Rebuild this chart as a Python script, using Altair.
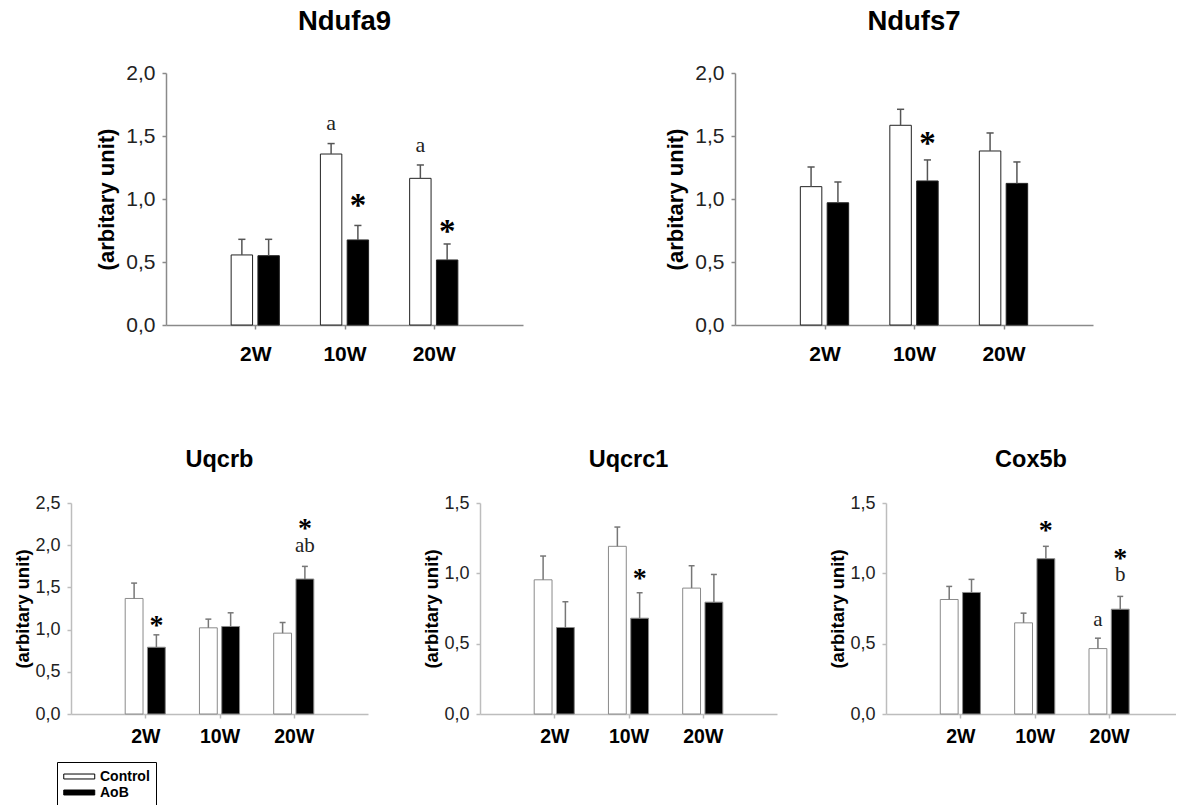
import altair as alt
import pandas as pd

times = ["2W", "10W", "20W"]
groups = ["Control", "AoB"]

# panel values (mean and SEM)
ndufa9_control = [0.556, 1.357, 1.164]
ndufa9_control_sem = [0.124, 0.083, 0.106]
ndufa9_aob = [0.550, 0.675, 0.516]
ndufa9_aob_sem = [0.130, 0.115, 0.127]

ndufs7_control = [1.098, 1.585, 1.381]
ndufs7_control_sem = [0.156, 0.127, 0.143]
ndufs7_aob = [0.970, 1.143, 1.124]
ndufs7_aob_sem = [0.165, 0.167, 0.170]

uqcrb_control = [1.369, 1.021, 0.958]
uqcrb_control_sem = [0.182, 0.103, 0.126]
uqcrb_aob = [0.791, 1.037, 1.599]
uqcrb_aob_sem = [0.147, 0.162, 0.150]

uqcrc1_control = [0.954, 1.192, 0.895]
uqcrc1_control_sem = [0.169, 0.137, 0.159]
uqcrc1_aob = [0.615, 0.681, 0.795]
uqcrc1_aob_sem = [0.183, 0.181, 0.197]

cox5b_control = [0.814, 0.648, 0.465]
cox5b_control_sem = [0.093, 0.069, 0.074]
cox5b_aob = [0.864, 1.104, 0.745]
cox5b_aob_sem = [0.093, 0.088, 0.091]

# significance labels: panel, time, group, text, level (data units)
annot_panel = ["Ndufa9", "Ndufa9", "Ndufa9", "Ndufa9", "Ndufs7",
               "Uqcrb", "Uqcrb", "Uqcrb", "Uqcrc1",
               "Cox5b", "Cox5b", "Cox5b", "Cox5b"]
annot_time = ["10W", "20W", "10W", "20W", "10W",
              "2W", "20W", "20W", "10W",
              "10W", "20W", "20W", "20W"]
annot_group = ["Control", "Control", "AoB", "AoB", "AoB",
               "AoB", "AoB", "AoB", "AoB",
               "AoB", "Control", "AoB", "AoB"]
annot_text = ["a", "a", "*", "*", "*",
              "*", "ab", "*", "*",
              "*", "a", "b", "*"]
annot_level = [1.587, 1.413, 1.0, 0.794, 1.49,
               1.124, 1.967, 2.27, 1.009,
               1.348, 0.655, 0.976, 1.15]

SANS = "Liberation Sans"
SERIF = "Liberation Serif"


def make_df(name, ctrl, ctrl_sem, aob, aob_sem):
    rows = []
    for i, t in enumerate(times):
        for g, vals, sems, off in (("Control", ctrl, ctrl_sem, -0.15),
                                   ("AoB", aob, aob_sem, 0.15)):
            xc = i + 1 + off
            rows.append(dict(time=t, group=g, value=vals[i], sem=sems[i],
                             top=vals[i] + sems[i], xc=xc,
                             x1=xc - 0.12, x2=xc + 0.12,
                             c1=xc - 0.04, c2=xc + 0.04))
    return pd.DataFrame(rows)


def make_annot(name, df):
    rows = []
    for p, t, g, s, lv in zip(annot_panel, annot_time, annot_group,
                              annot_text, annot_level):
        if p != name:
            continue
        xc = df[(df.time == t) & (df.group == g)].xc.iloc[0]
        rows.append(dict(xc=xc, level=lv, label=s))
    return pd.DataFrame(rows, columns=["xc", "level", "label"])


def panel(name, ctrl, ctrl_sem, aob, aob_sem, ymax, yticks, width, height,
          xmax, big, legend=False):
    df = make_df(name, ctrl, ctrl_sem, aob, aob_sem)
    an = make_annot(name, df)
    axis_col = "#8a8a8a" if big else "#bdbdbd"
    outline = "#222222" if big else "#8a8a8a"
    errc = "#555555" if big else "#777777"
    lab_expr = "[''," + ",".join("'%s'" % t for t in times) + "][datum.value]"
    xscale = alt.Scale(domain=[0, xmax], nice=False, zero=True)
    yscale = alt.Scale(domain=[0, ymax], nice=False)
    xaxis = alt.Axis(values=[1, 2, 3], labelExpr=lab_expr, title=None, grid=False,
                     domainColor=axis_col, domainWidth=1.5, tickColor=axis_col,
                     tickWidth=1.5, tickSize=4, labelFont=SANS,
                     labelFontSize=21 if big else 19.5, labelFontWeight="bold",
                     labelColor="black", labelBaseline="middle",
                     labelPadding=25 if big else 18)
    yaxis = alt.Axis(values=yticks,
                     labelExpr="replace(format(datum.value, '.1f'), '.', ',')",
                     title="(arbitary unit)", grid=False,
                     domainColor=axis_col, domainWidth=1.5, tickColor=axis_col,
                     tickWidth=1.5, tickSize=4, labelFont=SANS,
                     labelFontSize=21 if big else 18, labelColor="#222222",
                     labelPadding=7, titleFont=SANS,
                     titleFontSize=22 if big else 18.5, titleFontWeight="bold",
                     titleColor="black", titleAngle=270, titleAlign="center",
                     titleBaseline="middle", titleX=-60 if big else -49,
                     titleY=height / 2)
    fill_leg = None
    if legend:
        fill_leg = alt.Legend(title=None, orient="none", legendX=-14, legendY=259,
                              strokeColor="black", fillColor="white", padding=6,
                              symbolType="M-1,-0.32L3,-0.32L3,0.32L-1,0.32Z",
                              symbolSize=240, symbolStrokeColor="black",
                              symbolStrokeWidth=1, labelFont=SANS,
                              labelFontSize=14, labelFontWeight="bold",
                              labelColor="black", labelOffset=20, rowPadding=0,
                              cornerRadius=0)
    base = alt.Chart(df)
    bars = base.mark_rect(stroke=outline, strokeWidth=1).encode(
        x=alt.X("x1:Q", scale=xscale, axis=xaxis),
        x2="x2:Q",
        y=alt.Y("value:Q", scale=yscale, axis=yaxis),
        y2=alt.datum(0),
        fill=alt.Fill("group:N", scale=alt.Scale(domain=groups, range=["white", "black"]),
                      legend=fill_leg),
    )
    err = base.mark_rule(color=errc, strokeWidth=1.5).encode(
        x="xc:Q", y="value:Q", y2="top:Q")
    caps = base.mark_rule(color=errc, strokeWidth=1.5).encode(
        x="c1:Q", x2="c2:Q", y="top:Q")
    layers = [bars, err, caps]
    if len(an):
        ab = alt.Chart(an)
        stars = ab.transform_filter("datum.label == '*'").mark_text(
            font=SERIF, fontWeight="bold", fontSize=33 if big else 28,
            baseline="middle", dy=7, color="black").encode(
            x="xc:Q", y="level:Q", text="label:N")
        letters = ab.transform_filter("datum.label != '*'").mark_text(
            font=SERIF, fontSize=22 if big else 21, baseline="middle", dy=-2,
            color="#222222").encode(x="xc:Q", y="level:Q", text="label:N")
        layers += [stars, letters]
    title = alt.TitleParams(text=name, font=SANS, fontSize=27.5 if big else 23.5,
                            fontWeight="bold", color="black", anchor="middle",
                            frame="group", baseline="alphabetic",
                            offset=5 if big else 4)
    return alt.layer(*layers).properties(width=width, height=height, title=title)


def blank(w):
    return alt.Chart(pd.DataFrame({"v": [0]})).mark_point(opacity=0).encode(
        x=alt.X("v:Q", axis=None), y=alt.Y("v:Q", axis=None)
    ).properties(width=w, height=1)


p1 = panel("Ndufa9", ndufa9_control, ndufa9_control_sem, ndufa9_aob, ndufa9_aob_sem,
           2.0, [0, 0.5, 1.0, 1.5, 2.0], 357, 252, 4, True)
p2 = panel("Ndufs7", ndufs7_control, ndufs7_control_sem, ndufs7_aob, ndufs7_aob_sem,
           2.0, [0, 0.5, 1.0, 1.5, 2.0], 358, 252, 4, True)
p3 = panel("Uqcrb", uqcrb_control, uqcrb_control_sem, uqcrb_aob, uqcrb_aob_sem,
           2.5, [0, 0.5, 1.0, 1.5, 2.0, 2.5], 297, 211, 4, False, legend=True)
p4 = panel("Uqcrc1", uqcrc1_control, uqcrc1_control_sem, uqcrc1_aob, uqcrc1_aob_sem,
           1.5, [0, 0.5, 1.0, 1.5], 297, 211, 4, False)
p5 = panel("Cox5b", cox5b_control, cox5b_control_sem, cox5b_aob, cox5b_aob_sem,
           1.5, [0, 0.5, 1.0, 1.5], 290, 211, 3.9, False)

top = alt.hconcat(blank(95), p1, blank(212), p2, spacing=0, bounds="flush").resolve_scale(fill="independent")
bottom = alt.hconcat(p3, blank(112), p4, blank(109), p5, spacing=0, bounds="flush").resolve_scale(fill="independent")

chart = alt.vconcat(top, bottom, spacing=430, bounds="flush").resolve_scale(
    fill="independent"
).configure_view(stroke=None).properties(
    padding={"left": 13, "top": 7, "right": 0, "bottom": 0}
)

chart.save("out.html", embed_options={"renderer": "svg", "actions": False})
